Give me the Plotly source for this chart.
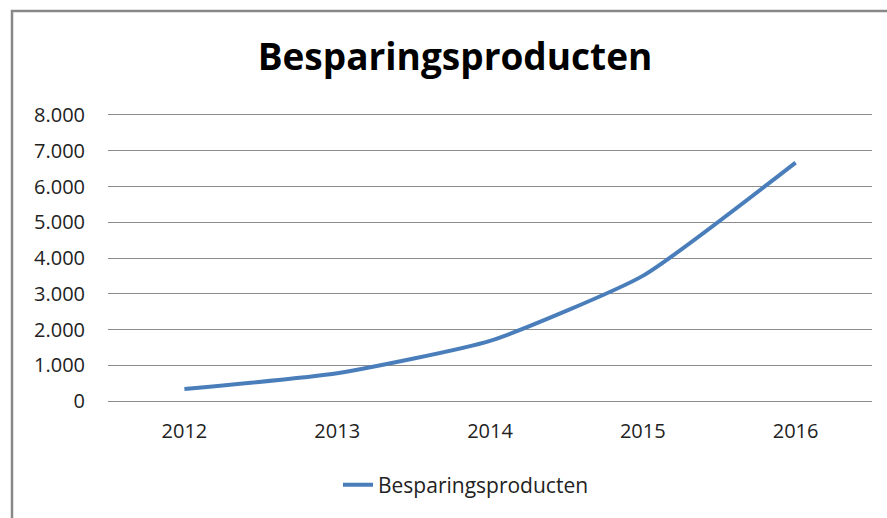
import plotly.graph_objects as go

years = ["2012", "2013", "2014", "2015", "2016"]
values = [335, 775, 1680, 3500, 6670]
series_name = "Besparingsproducten"
title_text = "Besparingsproducten"
y_ticks = [0, 1000, 2000, 3000, 4000, 5000, 6000, 7000, 8000]

W, H = 887, 518
L, R, T, B = 108, W - 872, 115, H - 401
pw = W - L - R
ph = H - T - B

fig = go.Figure()
fig.add_trace(go.Scatter(
    x=years, y=values, mode="lines", name=series_name,
    line=dict(color="#4A7EBB", width=4, shape="spline", smoothing=0.5),
))

font_family = "Open Sans, Lato, sans-serif"
grid = "#8C8C8C"

# chart-area frame (open on the right and bottom, as it runs off the picture)
bx0 = (12 - L) / pw
bx1 = (940 - L) / pw
by0 = (401 - 560) / ph
by1 = 1 + (T - 11) / ph
frame_path = f"M {bx1},{by1} L {bx0},{by1} L {bx0},{by0}"

fig.update_layout(
    width=W, height=H,
    margin=dict(l=L, r=R, t=T, b=B, autoexpand=False),
    paper_bgcolor="white", plot_bgcolor="white",
    separators=",.",
    font=dict(family=font_family, color="#222222", size=20),
    title=dict(text="<b>" + title_text + "</b>", x=455 / W, xanchor="center",
               y=1 - 57 / H, yanchor="middle", yref="container",
               font=dict(size=37, color="#000000", family=font_family)),
    showlegend=True,
    legend=dict(orientation="h", x=(466 - L) / pw, xanchor="center",
                y=(401 - 485) / ph, yanchor="middle",
                font=dict(size=21, color="#222222"), bgcolor="rgba(0,0,0,0)"),
    xaxis=dict(type="category", range=[-0.5, 4.5], showgrid=False, zeroline=False,
               showline=True, mirror=True, linecolor=grid, linewidth=1,
               ticks="", tickfont=dict(size=20),
               ticklabelstandoff=12, fixedrange=True),
    yaxis=dict(range=[0, 8000], tickvals=y_ticks, tickformat=",d", showgrid=True,
               gridcolor=grid, gridwidth=1, zeroline=False, showline=False,
               ticks="", tickfont=dict(size=20), ticklabelstandoff=22,
               fixedrange=True),
    shapes=[dict(type="path", xref="paper", yref="paper", path=frame_path,
                 line=dict(color="#888888", width=2.5), layer="below")],
)

fig.write_html(
    "out.html",
    config={"displayModeBar": False},
    post_script="document.body.style.margin='0';document.body.style.overflow='hidden';",
)
